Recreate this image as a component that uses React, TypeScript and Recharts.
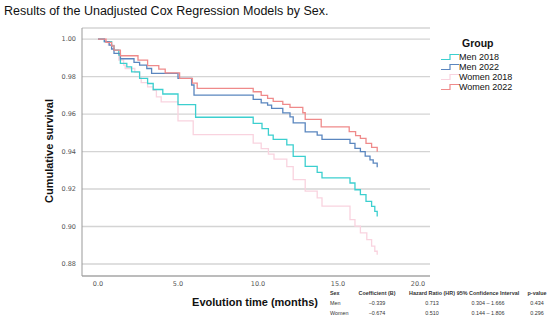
import React from 'react'
import { LineChart, Line, XAxis, YAxis, CartesianGrid } from 'recharts'

// Kaplan-Meier style steps: [months, cumulative survival]
const men2018 = [
  [0, 1], [0.4, 0.9986], [0.85, 0.9964], [1.0, 0.9941], [1.3, 0.9915], [1.4, 0.987],
  [1.8, 0.9852], [2.1, 0.9825], [2.6, 0.979], [3.1, 0.9763], [3.45, 0.9731], [4.05, 0.9707],
  [5.0, 0.965], [6.1, 0.9583], [9.7, 0.955], [10.25, 0.9522], [10.65, 0.9488], [10.95, 0.9465],
  [11.8, 0.9435], [12.2, 0.9374], [12.95, 0.9321], [13.7, 0.9289], [14.0, 0.9259], [15.75, 0.9232],
  [16.06, 0.9196], [16.4, 0.917], [16.75, 0.9134], [17.1, 0.9107], [17.3, 0.9081], [17.45, 0.9054],
]

const men2022 = [
  [0, 1], [0.4, 0.9986], [0.7, 0.9968], [0.85, 0.9947], [1.0, 0.9924], [1.4, 0.9895],
  [2.25, 0.9876], [2.6, 0.9861], [3.05, 0.9843], [3.35, 0.9817], [5.0, 0.979], [5.85, 0.9755],
  [6.0, 0.9701], [9.7, 0.9678], [10.2, 0.966], [10.6, 0.9648], [10.85, 0.963], [11.55, 0.9606],
  [12.0, 0.9585], [12.2, 0.9553], [12.95, 0.9505], [13.7, 0.9488], [14.0, 0.9465], [15.75, 0.9443],
  [16.06, 0.9417], [16.4, 0.9399], [16.7, 0.9376], [17.0, 0.9355], [17.2, 0.9338], [17.45, 0.9316],
]

const women2018 = [
  [0, 1], [0.5, 0.9982], [0.65, 0.9968], [1.0, 0.9941], [1.3, 0.9888], [1.6, 0.9861],
  [1.7, 0.9843], [2.3, 0.9822], [2.6, 0.9793], [2.7, 0.9768], [3.1, 0.9745], [3.45, 0.9727],
  [3.65, 0.9692], [3.95, 0.9665], [5.0, 0.9564], [5.95, 0.949], [9.7, 0.9445], [10.2, 0.9415],
  [10.65, 0.9386], [11.0, 0.936], [11.8, 0.932], [12.2, 0.925], [12.95, 0.9189], [13.7, 0.9153],
  [14.0, 0.9109], [15.75, 0.9037], [16.06, 0.9002], [16.4, 0.8966], [16.8, 0.893], [17.1, 0.8895],
  [17.3, 0.8868], [17.45, 0.885],
]

const women2022 = [
  [0, 1], [0.5, 0.9982], [0.85, 0.9964], [1.0, 0.9941], [1.4, 0.9911], [2.5, 0.9888],
  [3.1, 0.9858], [3.8, 0.984], [4.2, 0.982], [5.1, 0.979], [5.9, 0.9765], [6.2, 0.9737],
  [9.7, 0.9719], [10.2, 0.97], [10.6, 0.9684], [10.95, 0.9668], [11.55, 0.9652], [12.0, 0.9636],
  [12.8, 0.9607], [12.95, 0.9572], [13.95, 0.9532], [15.7, 0.9506], [16.1, 0.9485], [16.4, 0.947],
  [16.75, 0.9444], [17.1, 0.9422], [17.45, 0.9399],
]

const yTicks = [0.88, 0.9, 0.92, 0.94, 0.96, 0.98, 1.0]
const xTicks = [0, 5, 10, 15, 20]

const tableHead = ['Sex', 'Coefficient (B)', 'Hazard Ratio (HR)', '95% Confidence Interval', 'p-value']
const tableRows = [
  ['Men', '\u22120.339', '0.713', '0.304 \u2013 1.666', '0.434'],
  ['Women', '\u22120.674', '0.510', '0.144 \u2013 1.806', '0.296'],
]

const series = [
  { name: 'Men 2018', data: men2018, color: '#3ccfcf' },
  { name: 'Men 2022', data: men2022, color: '#5a86bf' },
  { name: 'Women 2018', data: women2018, color: '#f9d3df' },
  { name: 'Women 2022', data: women2022, color: '#ef8a8a' },
]

const toPoints = (arr: number[][]) => arr.map(([t, v]) => ({ t, v }))

// column centres of the little results table
const colX = [330, 377, 432, 488, 537]

export default function App() {
  const font = '"Liberation Sans", Arial, sans-serif'
  return (
    <div style={{ position: 'absolute', left: 0, top: 0, width: 550, height: 329, background: '#fff', fontFamily: font }}>
      <div style={{ position: 'absolute', left: 4, top: 4, fontSize: 12.5, color: '#111', whiteSpace: 'nowrap' }}>
        Results of the Unadjusted Cox Regression Models by Sex.
      </div>

      <LineChart width={550} height={329} margin={{ top: 28, right: 120, bottom: 38, left: 0 }}>
        <CartesianGrid vertical={false} stroke="#d4d4d4" strokeWidth={1.3} />
        <XAxis
          type="number"
          dataKey="t"
          domain={[-1, 20.75]}
          ticks={xTicks}
          allowDataOverflow
          tickFormatter={(v: number) => v.toFixed(1)}
          height={15}
          tickLine={false}
          tickSize={3}
          tickMargin={2}
          axisLine={{ stroke: '#999' }}
          tick={{ fill: '#555', fontSize: 6.5, fontFamily: '"DejaVu Sans", sans-serif' }}
        />
        <YAxis
          type="number"
          domain={[0.8736, 1.0059]}
          ticks={yTicks}
          allowDataOverflow
          tickFormatter={(v: number) => v.toFixed(2)}
          width={82}
          tickLine={false}
          tickSize={4}
          tickMargin={2}
          axisLine={{ stroke: '#999' }}
          tick={{ fill: '#555', fontSize: 6.5, fontFamily: '"DejaVu Sans", sans-serif' }}
        />
        {[series[2], series[0], series[1], series[3]].map(s => (
          <Line
            key={s.name}
            data={toPoints(s.data)}
            dataKey="v"
            name={s.name}
            type="stepAfter"
            stroke={s.color}
            strokeWidth={1.3}
            dot={false}
            isAnimationActive={false}
          />
        ))}
      </LineChart>

      <div style={{ position: 'absolute', left: 49, top: 151, transform: 'translate(-50%, -50%) rotate(-90deg)', fontSize: 11, fontWeight: 'bold', whiteSpace: 'nowrap', color: '#111' }}>
        Cumulative survival
      </div>
      <div style={{ position: 'absolute', left: 255, top: 302, transform: 'translate(-50%, -50%)', fontSize: 11, fontWeight: 'bold', whiteSpace: 'nowrap', color: '#111' }}>
        Evolution time (months)
      </div>

      {/* legend */}
      <div style={{ position: 'absolute', left: 462, top: 37, fontSize: 10.5, fontWeight: 'bold', color: '#111' }}>Group</div>
      {series.map((s, i) => (
        <div key={s.name} style={{ position: 'absolute', left: 441, top: 51 + i * 10.3, height: 11, display: 'flex', alignItems: 'center', fontSize: 9, color: '#111', whiteSpace: 'nowrap' }}>
          <svg width={18} height={8} style={{ display: 'block' }}>
            <path d="M0,6.5 L9,6.5 L9,1.5 L18,1.5" fill="none" stroke={s.color} strokeWidth={1.2} />
          </svg>
          <span>{s.name}</span>
        </div>
      ))}

      {/* results table, drawn at 11px and halved so the browser's minimum font size does not kick in */}
      {[tableHead, ...tableRows].map((row, r) =>
        row.map((cell, c) => (
          <div
            key={r + '-' + c}
            style={{
              position: 'absolute',
              left: colX[c],
              top: 293.3 + r * 10,
              transform: c === 0 ? 'translate(0, -50%) scale(0.5)' : 'translate(-50%, -50%) scale(0.5)',
              transformOrigin: c === 0 ? 'left center' : 'center center',
              fontSize: 10.8,
              fontWeight: r === 0 ? 'bold' : 'normal',
              color: '#333',
              whiteSpace: 'nowrap',
            }}
          >
            {cell}
          </div>
        ))
      )}
    </div>
  )
}
